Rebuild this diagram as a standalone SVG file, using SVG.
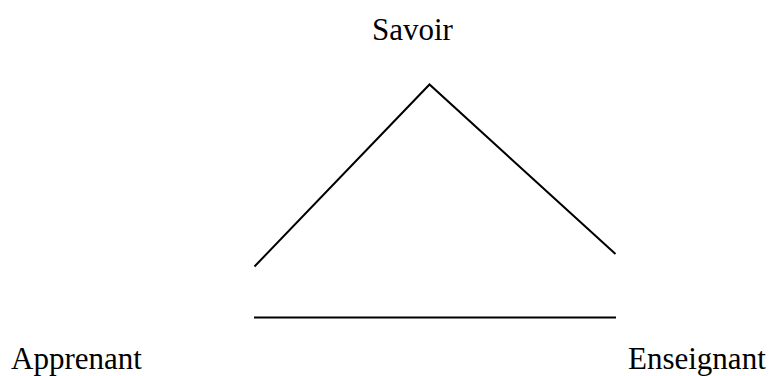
<svg xmlns="http://www.w3.org/2000/svg" width="769" height="376" viewBox="0 0 769 376">
<style>
.lbl{font-family:"Liberation Serif","Times New Roman",serif;font-size:31px;fill:#000}
.ln{stroke:#000;stroke-width:2;fill:none}
</style>
<rect width="769" height="376" fill="#fff"/>
<g id="savoir"><text class="lbl" x="372" y="39.5">Savoir</text></g>
<g id="apprenant"><text class="lbl" x="11" y="369">Apprenant</text></g>
<g id="enseignant"><text class="lbl" x="628" y="369">Enseignant</text></g>
<g id="connectors">
<polyline class="ln" points="254.5,266.5 429.5,84.5 615.5,254"/>
<line class="ln" x1="254" y1="317.5" x2="616" y2="317.5"/>
</g>
</svg>
